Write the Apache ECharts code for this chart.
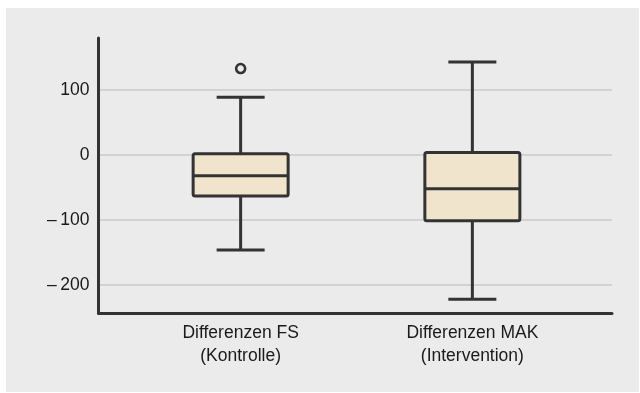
<!DOCTYPE html>
<html>
<head>
<meta charset="utf-8">
<script src="https://cdn.jsdelivr.net/npm/echarts@6/dist/echarts.min.js"></script>
<style>html,body{margin:0;padding:0;background:#fff;}#c{width:640px;height:393px;}</style>
</head>
<body>
<div id="c"></div>
<script>
// ---- data ----
var categories = ['Differenzen FS\n(Kontrolle)', 'Differenzen MAK\n(Intervention)'];
var whiskerLow  = [-146, -222];
var q1          = [-63, -101];
var median      = [-32, -52];
var q3          = [2, 4];
var whiskerHigh = [89, 143];
var outliers    = [[0, 133]];
var yTicks      = [-200, -100, 0, 100];

var boxData = categories.map(function (c, i) {
  return [i, whiskerLow[i], q1[i], median[i], q3[i], whiskerHigh[i]];
});

var STROKE = '#333333';
var chart = echarts.init(document.getElementById('c'), null, {renderer: 'canvas'});
chart.setOption({
  backgroundColor: '#ffffff',
  animation: false,
  graphic: [{
    type: 'rect', left: 6, top: 8, z: -10,
    shape: {width: 633, height: 384},
    style: {fill: '#ebebeb'}
  }],
  grid: {left: 98.5, right: 28, top: 38, bottom: 80, containLabel: false},
  xAxis: {
    type: 'value', min: -0.6134, max: 1.6026,
    axisLine: {show: true, onZero: false, lineStyle: {color: STROKE, width: 3}},
    axisTick: {show: false, customValues: [0, 1]},
    splitLine: {show: false},
    axisLabel: {
      customValues: [0, 1],
      formatter: function (v) { return categories[Math.round(v)]; },
      fontFamily: 'Liberation Sans', fontSize: 17.5, color: '#1a1a1a',
      lineHeight: 23, margin: 9
    }
  },
  yAxis: {
    type: 'value', min: -243, max: 180,
    axisLine: {show: true, onZero: false, lineStyle: {color: STROKE, width: 3}},
    axisTick: {show: false, customValues: yTicks},
    splitLine: {show: true, lineStyle: {color: '#d2d2d2', width: 2}},
    axisLabel: {
      customValues: yTicks,
      formatter: function (v) { return v < 0 ? '\u2013\u2009' + Math.abs(v) : String(v); },
      fontFamily: 'Liberation Sans', fontSize: 17.5, color: '#1a1a1a', margin: 9,
      padding: [4, 0, 0, 0]
    }
  },
  series: [{
    type: 'custom',
    data: boxData,
    encode: {x: 0, y: [1, 2, 3, 4, 5]},
    renderItem: function (params, api) {
      var x = api.value(0);
      var pLow = api.coord([x, api.value(1)]);
      var pQ1 = api.coord([x, api.value(2)]);
      var pMed = api.coord([x, api.value(3)]);
      var pQ3 = api.coord([x, api.value(4)]);
      var pHigh = api.coord([x, api.value(5)]);
      var cx = pMed[0];
      var bw = 95, cw = 48;
      var ls = {stroke: STROKE, lineWidth: 3, fill: null};
      return {
        type: 'group',
        children: [
          {type: 'line', shape: {x1: cx, y1: pHigh[1], x2: cx, y2: pQ3[1]}, style: ls},
          {type: 'line', shape: {x1: cx, y1: pQ1[1], x2: cx, y2: pLow[1]}, style: ls},
          {type: 'line', shape: {x1: cx - cw / 2, y1: pHigh[1], x2: cx + cw / 2, y2: pHigh[1]}, style: ls},
          {type: 'line', shape: {x1: cx - cw / 2, y1: pLow[1], x2: cx + cw / 2, y2: pLow[1]}, style: ls},
          {type: 'rect', shape: {x: cx - bw / 2, y: pQ3[1], width: bw, height: pQ1[1] - pQ3[1], r: 2},
           style: {fill: '#f0e4cc', stroke: STROKE, lineWidth: 3}},
          {type: 'line', shape: {x1: cx - bw / 2, y1: pMed[1], x2: cx + bw / 2, y2: pMed[1]}, style: ls}
        ]
      };
    }
  }, {
    type: 'scatter',
    data: outliers,
    symbol: 'circle',
    symbolSize: 9,
    itemStyle: {color: '#ebebeb', borderColor: STROKE, borderWidth: 2.6, opacity: 1}
  }]
});
</script>
</body>
</html>
